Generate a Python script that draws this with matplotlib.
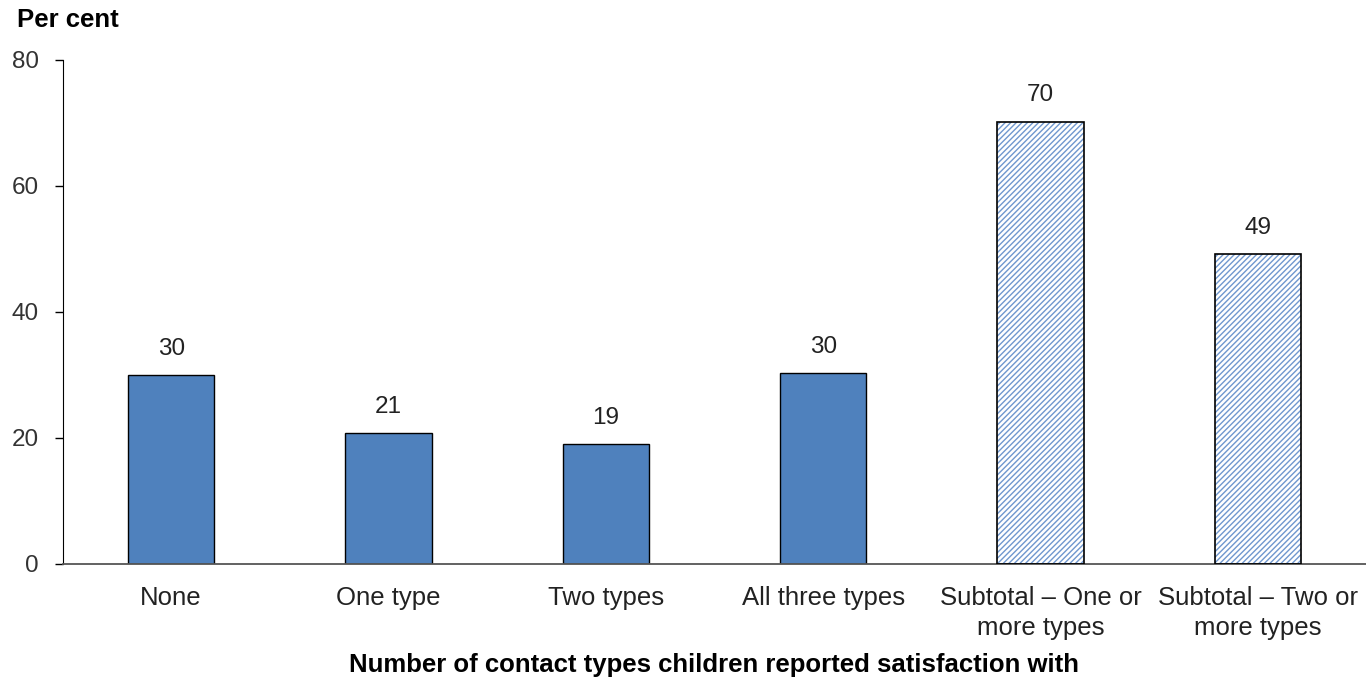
import matplotlib
matplotlib.use("Agg")
import matplotlib.pyplot as plt

plt.rcParams['font.family'] = ['Liberation Sans', 'DejaVu Sans']
plt.rcParams['hatch.linewidth'] = 1.0

categories = ["None", "One type", "Two types", "All three types",
              "Subtotal – One or\nmore types", "Subtotal – Two or\nmore types"]
values = [30.0, 20.8, 19.0, 30.3, 70.2, 49.2]
hatched = [False, False, False, False, True, True]
yticks = [0, 20, 40, 60, 80]

BLUE = '#4F81BD'

fig = plt.figure(figsize=(13.66, 6.79), dpi=100)
ax = fig.add_axes([62.5/1366, 115/679, 1304/1366, (564-60)/679])

x = list(range(len(categories)))
for xi, v, h in zip(x, values, hatched):
    if h:
        ax.bar(xi, v, width=0.396, color='white', edgecolor='#6F97CE', hatch='//////', linewidth=0, zorder=2)
        ax.bar(xi, v, width=0.396, fill=False, edgecolor='black', linewidth=1.2, zorder=3)
    else:
        ax.bar(xi, v, width=0.396, color=BLUE, edgecolor='black', linewidth=1.0, zorder=2)
    ax.annotate(f"{v:.0f}", (xi, v), xytext=(0, 11), textcoords='offset points',
                ha='center', va='bottom', fontsize=17.5, color='#222222')

ax.set_xlim(-0.5, len(categories) - 0.5)
ax.set_ylim(0, 80)
ax.set_yticks(yticks)
ax.set_xticks(x)
ax.set_xticklabels(categories, fontsize=18.5, color='#222222', linespacing=1.3)
ax.tick_params(axis='x', length=0, pad=16)
ax.tick_params(axis='y', length=6, width=1, direction='out', pad=11, labelsize=17.5, labelcolor='#333333')

for s in ['top', 'right']:
    ax.spines[s].set_visible(False)
ax.spines['left'].set_color('black')
ax.spines['bottom'].set_color('#555555')
ax.spines['bottom'].set_linewidth(1.3)

fig.text(17/1366, 1 - 20/679, "Per cent", fontsize=18.5, fontweight='bold', ha='left', va='center')
fig.text(714/1366, 1 - 665/679, "Number of contact types children reported satisfaction with",
         fontsize=18.5, fontweight='bold', ha='center', va='center')

fig.savefig("out.png", dpi=100)
